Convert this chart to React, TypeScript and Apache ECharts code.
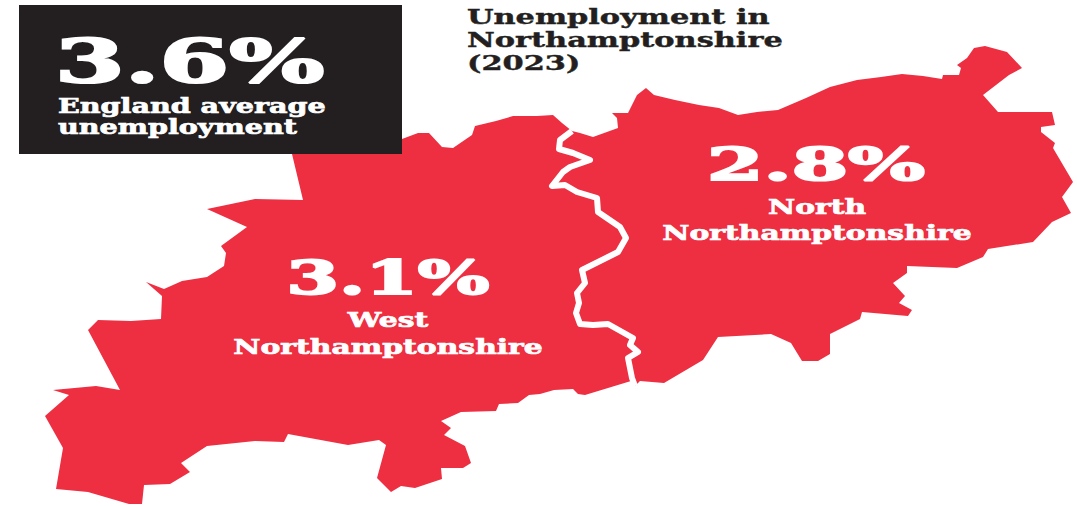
import React, { useEffect, useRef } from "react";
import * as echarts from "echarts";

// Local authorities and their 2023 unemployment rates (per cent)
const districtNames = ["West Northamptonshire", "North Northamptonshire"];
const districtRates = [3.1, 2.8];
const englandRate = 3.6;
const titleLines = ["Unemployment in", "Northamptonshire", "(2023)"];
const englandLines = ["England average", "unemployment"];

// Border between the two authorities, north to south
const divider: number[][] = [
  [572, 131], [560, 140], [559, 149], [573, 153], [590, 160], [570, 167], [563, 172], [552, 186],
  [565, 185], [577, 192], [597, 198], [598, 212], [620, 227], [626, 238], [618, 252], [582, 270],
  [585, 283], [577, 293], [579, 303], [576, 313], [580, 324], [593, 325], [608, 324], [633, 338],
  [630, 345], [638, 352], [628, 358], [632, 378], [635, 386],
];

// Outer boundary of West Northamptonshire, clockwise from the divider's south end
const westOuter: number[][] = [
  [631, 381], [585, 395], [578, 394], [573, 389], [554, 390], [540, 394], [529, 395], [518, 403],
  [499, 404], [496, 411], [461, 412], [441, 421], [451, 428], [444, 435], [465, 446], [471, 463],
  [463, 468], [441, 468], [442, 479], [415, 488], [401, 486], [391, 492], [377, 478], [386, 445],
  [379, 440], [348, 445], [288, 434], [284, 442], [255, 441], [207, 446], [181, 463], [190, 472],
  [170, 484], [144, 485], [142, 504], [129, 504], [88, 492], [56, 489], [63, 448], [45, 416],
  [69, 395], [53, 390], [96, 386], [120, 390], [88, 330], [98, 320], [131, 321], [161, 319],
  [162, 296], [146, 282], [164, 289], [182, 281], [207, 277], [224, 266], [226, 253], [221, 246],
  [247, 227], [207, 209], [255, 199], [303, 200], [292, 154], [292, 139], [402, 139], [418, 133],
  [429, 133], [442, 147], [453, 148], [472, 135], [475, 126], [496, 121], [513, 116], [537, 116],
  [553, 115], [562, 123],
];

// Outer boundary of North Northamptonshire, clockwise from the divider's north end
const northOuter: number[][] = [
  [580, 133], [593, 137], [618, 128], [617, 118], [612, 113], [628, 113], [637, 95], [646, 88], [654, 95],
  [675, 100], [699, 105], [719, 108], [738, 115], [757, 112], [778, 110], [806, 98], [830, 87],
  [857, 80], [881, 77], [902, 74], [923, 76], [942, 79], [943, 75], [959, 75], [961, 68],
  [957, 65], [967, 58], [974, 48], [985, 46], [1007, 52], [1022, 68], [1009, 75], [983, 95],
  [998, 112], [1052, 112], [1055, 125], [1041, 127], [1041, 132], [1055, 143], [1053, 148], [1073, 182],
  [1062, 197], [1071, 213], [1052, 222], [1033, 242], [988, 249], [983, 257], [957, 268], [907, 266],
  [907, 273], [893, 283], [905, 296], [899, 303], [912, 310], [908, 316], [862, 312], [860, 319],
  [830, 334], [830, 354], [818, 361], [802, 361], [791, 343], [771, 334], [718, 337], [703, 360],
  [664, 383], [640, 381],
];

const RED = "#ee2e41";
const INK = "#231f20";
const SERIF = '"DejaVu Serif", serif';

const ring = (pts: number[][]) => [...pts, pts[0]];

const countyMap = {
  type: "FeatureCollection",
  features: [
    {
      type: "Feature",
      properties: { name: districtNames[0] },
      geometry: { type: "Polygon", coordinates: [ring([...divider, ...westOuter])] },
    },
    {
      type: "Feature",
      properties: { name: districtNames[1] },
      geometry: { type: "Polygon", coordinates: [ring([...northOuter, ...[...divider].reverse()])] },
    },
  ],
};

const txt = (
  text: string,
  x: number,
  y: number,
  size: number,
  sx: number,
  fill: string,
  align = "left",
  heft = 0.7,
) => ({
  type: "text" as const,
  x,
  y,
  scaleX: sx,
  z: 20,
  silent: true,
  style: {
    text,
    x: 0,
    y: 0,
    fill,
    stroke: fill,
    lineWidth: heft,
    align,
    verticalAlign: "middle",
    font: `900 ${size}px ${SERIF}`,
  },
});

export default function App() {
  const ref = useRef<HTMLDivElement>(null);

  useEffect(() => {
    echarts.registerMap("northants", countyMap as any);
    const chart = echarts.init(ref.current!, undefined, { renderer: "svg" });
    const pct = (v: number) => `${v.toFixed(1)}%`;
    chart.setOption({
      animation: false,
      backgroundColor: "#ffffff",
      geo: {
        map: "northants",
        projection: {
          project: (p: number[]) => [p[0], p[1]],
          unproject: (p: number[]) => [p[0], p[1]],
        },
        boundingCoords: [[0, 0], [1077, 506]],
        left: 0,
        top: 0,
        width: 1077,
        height: 506,
        roam: false,
        silent: true,
        label: { show: false },
        itemStyle: { areaColor: RED, borderWidth: 0 },
        emphasis: { disabled: true },
      },
      series: [
        {
          type: "map",
          geoIndex: 0,
          silent: true,
          label: { show: false },
          data: districtNames.map((name, i) => ({ name, value: districtRates[i] })),
        },
        {
          type: "lines",
          coordinateSystem: "geo",
          polyline: true,
          silent: true,
          z: 5,
          lineStyle: { color: "#ffffff", width: 6, opacity: 1, curveness: 0, join: "round" },
          data: [{ coords: divider }],
        },
      ],
      graphic: [
        { type: "rect", z: 10, silent: true, shape: { x: 19, y: 5, width: 383, height: 149 }, style: { fill: INK } },
        txt(pct(englandRate), 55, 61, 60, 1.67, "#ffffff", "left", 2.2),
        txt(englandLines[0], 58, 106, 20, 1.43, "#ffffff"),
        txt(englandLines[1], 58, 127, 20, 1.43, "#ffffff"),
        txt(titleLines[0], 467, 17, 20, 1.52, INK, "left", 0.4),
        txt(titleLines[1], 467, 40, 20, 1.52, INK, "left", 0.4),
        txt(titleLines[2], 467, 63, 20, 1.52, INK, "left", 0.4),
        txt(pct(districtRates[1]), 816, 164, 45, 1.8, "#ffffff", "center", 2),
        txt("North", 817, 207, 20, 1.49, "#ffffff", "center"),
        txt("Northamptonshire", 817, 233, 20, 1.49, "#ffffff", "center"),
        txt(pct(districtRates[0]), 388, 278, 46, 1.64, "#ffffff", "center", 2),
        txt("West", 388, 320, 20, 1.49, "#ffffff", "center"),
        txt("Northamptonshire", 388, 347, 20, 1.49, "#ffffff", "center"),
      ],
    });
    return () => chart.dispose();
  }, []);

  return <div ref={ref} style={{ position: "fixed", left: 0, top: 0, width: 1077, height: 506 }} />;
}
